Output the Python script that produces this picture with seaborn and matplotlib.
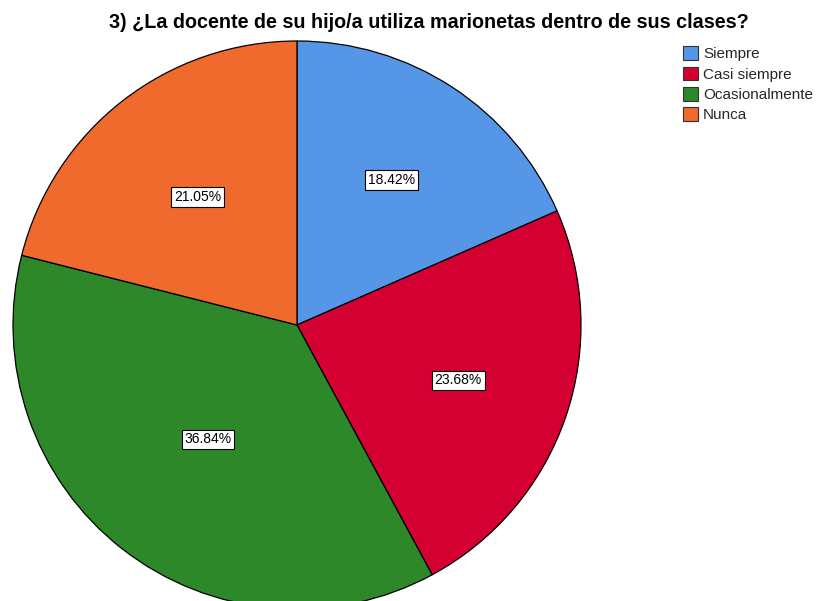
import numpy as np
import matplotlib
matplotlib.use("Agg")
import matplotlib.pyplot as plt
import seaborn as sns

sns.set_theme(style="white")
plt.rcParams['font.family'] = ['Liberation Sans', 'DejaVu Sans']

# Data
categories = ["Siempre", "Casi siempre", "Ocasionalmente", "Nunca"]
counts = [7, 9, 14, 8]
colors = ["#5596E6", "#D50032", "#2C8828", "#F06A2D"]
title = "3) ¿La docente de su hijo/a utiliza marionetas dentro de sus clases?"
label_dist = [0.61, 0.60, 0.51, 0.57]

fig = plt.figure(figsize=(8.22, 6.01), dpi=100)
ax = fig.add_axes([13 / 822, -8 / 601, 568 / 822, 568 / 601])

wedges, texts, autotexts = ax.pie(
    counts, colors=colors, startangle=90, counterclock=False,
    autopct='%1.2f%%', pctdistance=0.58,
    wedgeprops={'edgecolor': 'black', 'linewidth': 0.9},
    textprops={'fontsize': 10, 'color': 'black'})
for w, t, d in zip(wedges, autotexts, label_dist):
    ang = np.deg2rad((w.theta1 + w.theta2) / 2)
    t.set_position((d * np.cos(ang), d * np.sin(ang)))
    t.set_bbox(dict(facecolor='white', edgecolor='black', linewidth=0.8, pad=2))
ax.set_xlim(-1, 1)
ax.set_ylim(-1, 1)
ax.set_aspect('auto')
ax.axis('off')

fig.text(429 / 822, 1 - 23 / 601, title, ha='center', va='center',
         fontsize=14.2, fontweight='bold', color='black')

leg = fig.legend(wedges, categories, loc='upper left',
                 bbox_to_anchor=(677 / 822, 1 - 40 / 601), frameon=False,
                 fontsize=11, handlelength=1.0, handleheight=1.0,
                 handletextpad=0.3, labelspacing=0.35, borderaxespad=0)
for h in leg.legend_handles:
    h.set_edgecolor('#333333')
    h.set_linewidth(0.8)

fig.savefig("out.png", dpi=100)
